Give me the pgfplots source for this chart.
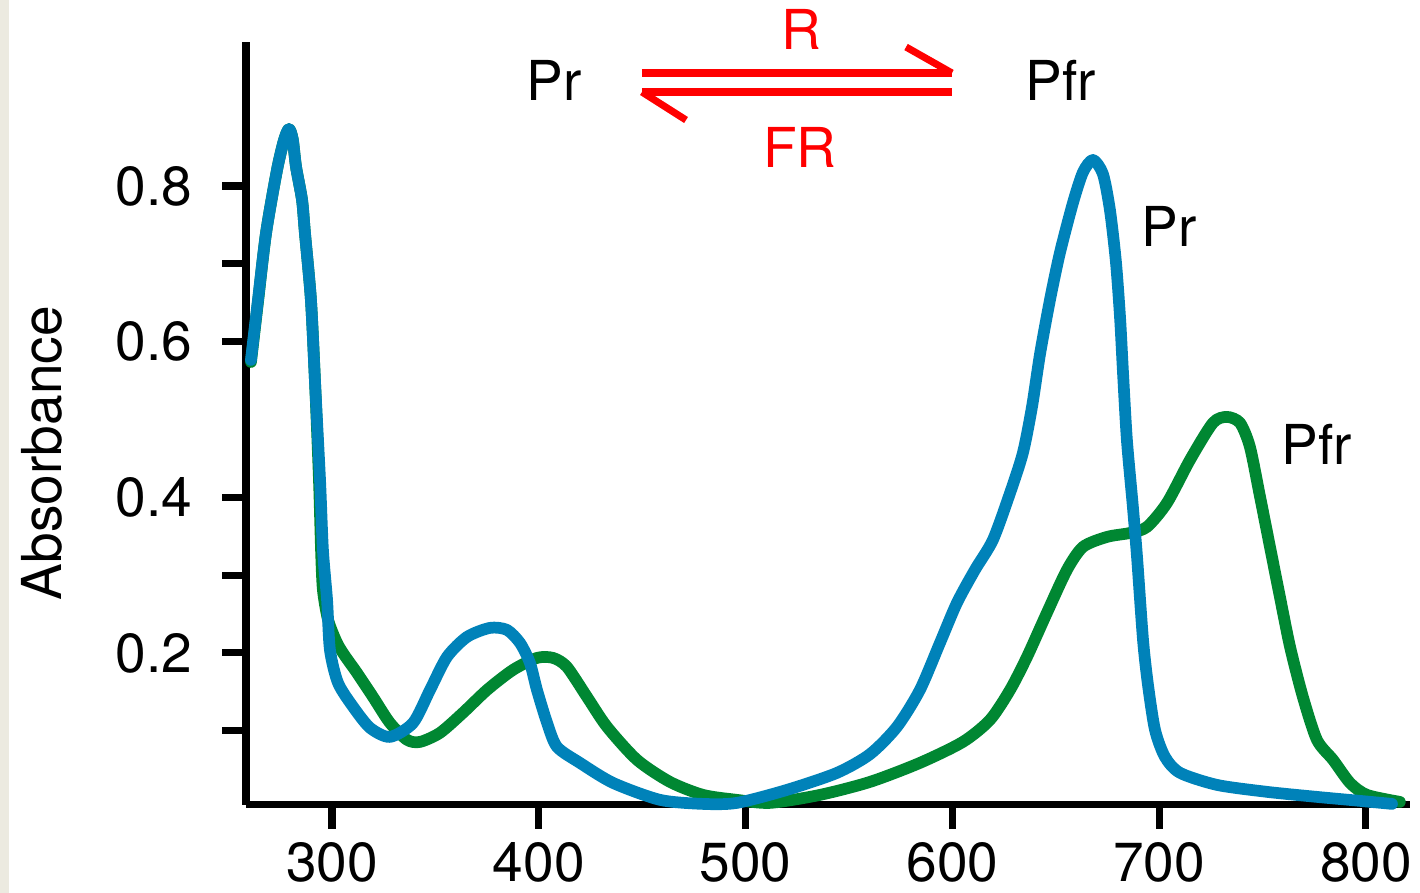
\documentclass[border=0pt]{standalone}
\usepackage{fontspec}
\setmainfont{TeX Gyre Heros}
\usepackage{pgfplots}
\pgfplotsset{compat=1.18}
\definecolor{prblue}{RGB}{0,130,185}
\definecolor{pfrgreen}{RGB}{0,135,50}
\definecolor{bgstrip}{RGB}{236,234,224}

\begin{document}
\fontsize{15.5}{18}\selectfont
\begin{tikzpicture}
\begin{axis}[
  scale only axis, width=327.9pt, height=214.9pt,
  xmin=258.4, xmax=821.3, ymin=0.0048, ymax=0.9851,
  axis x line=bottom, axis y line=left,
  axis line style={-, line width=2pt},
  tick align=outside, major tick length=6.76pt,
  tick style={line width=2pt, black},
  xtick={300,400,500,600,700,800},
  xticklabels={300,400,500,600,700,800},
  xticklabel style={yshift=1.6pt},
  ytick={0.1,0.2,0.3,0.4,0.6,0.7,0.8},
  yticklabels={,0.2,,0.4,0.6,,0.8},
  yticklabel style={xshift=-3pt},
  clip=false,
  every axis plot/.append style={line width=3.3pt, line join=round, line cap=round},
]
% Pfr (green)
\addplot[pfrgreen, smooth, tension=0.45] coordinates {
  (260.8,0.5739) (264.2,0.6511) (268.1,0.7397) (273.4,0.8206) (276.8,0.8591)
  (279.2,0.8733) (281.0,0.8600) (282.6,0.8245) (285.5,0.7821) (286.9,0.7397) (289.8,0.6536)
  (291.8,0.5469) (293.7,0.4223) (294.7,0.3324) (295.6,0.2810) (298.1,0.2424)
  (302.4,0.2130) (306.3,0.1960) (312.1,0.1743) (319.8,0.1435) (328.0,0.1101)
  (336.3,0.0883) (342.6,0.0857) (352.2,0.0973) (363.3,0.1230) (375.0,0.1525)
  (387.5,0.1782) (399.1,0.1936) (406.9,0.1936) (413.6,0.1821) (423.3,0.1435)
  (433.0,0.1050) (447.5,0.0626) (463.4,0.0343) (479.4,0.0176) (495.8,0.0112)
  (511.8,0.0073) (536.0,0.0176) (560.2,0.0343) (584.3,0.0587) (605.1,0.0857)
  (618.2,0.1140) (627.9,0.1525) (636.1,0.1949) (645.7,0.2514) (655.4,0.3067)
  (663.2,0.3363) (674.8,0.3491) (685.9,0.3542) (694.1,0.3619) (703.8,0.3928)
  (714.9,0.4480) (726.0,0.4956) (732.8,0.5033) (739.1,0.4956) (743.9,0.4647)
  (748.8,0.4005) (753.6,0.3362) (758.4,0.2720) (763.3,0.2078) (769.5,0.1435)
  (776.3,0.0883) (784.1,0.0626) (792.3,0.0330) (800.5,0.0176) (816.4,0.0086)
};
% Pr (blue)
\addplot[prblue, smooth, tension=0.45] coordinates {
  (260.8,0.5765) (264.2,0.6536) (268.1,0.7397) (273.4,0.8206) (276.8,0.8591)
  (279.2,0.8733) (281.0,0.8600) (282.6,0.8245) (285.5,0.7821) (286.9,0.7397) (289.8,0.6536)
  (291.8,0.5469) (294.2,0.4223) (295.6,0.3324) (297.6,0.2681) (299.0,0.2039)
  (302.9,0.1615) (310.2,0.1307) (318.4,0.1037) (328.0,0.0921) (339.2,0.1101)
  (347.4,0.1525) (355.6,0.1949) (365.3,0.2206) (376.4,0.2322) (384.6,0.2296)
  (390.9,0.2129) (395.7,0.1872) (399.1,0.1525) (404.0,0.1101) (408.8,0.0793)
  (419.9,0.0587) (435.9,0.0330) (458.6,0.0112) (479.4,0.0060) (495.8,0.0073)
  (520.0,0.0240) (544.2,0.0459) (560.2,0.0700) (573.2,0.1050) (584.3,0.1525)
  (594.0,0.2129) (602.2,0.2643) (610.9,0.3067) (619.6,0.3452) (627.9,0.4056)
  (634.1,0.4570) (638.5,0.5161) (642.4,0.5842) (647.2,0.6536) (652.0,0.7140)
  (658.3,0.7782) (663.2,0.8180) (668.0,0.8335) (672.8,0.8155) (676.2,0.7692)
  (679.1,0.7024) (681.1,0.6305) (682.5,0.5611) (684.4,0.4737) (687.3,0.3876)
  (689.3,0.3234) (692.2,0.2167) (694.6,0.1589) (698.0,0.1011) (702.8,0.0664)
  (710.1,0.0459) (728.0,0.0304) (752.1,0.0215) (776.3,0.0150) (797.1,0.0099)
  (812.6,0.0060)
};
% labels
\node[anchor=base] at (axis cs:704.7,0.7217) {Pr};
\node[anchor=base] at (axis cs:776.3,0.4416) {Pfr};
\node[anchor=base] at (axis cs:407.4,0.9105) {Pr};
\node[anchor=base] at (axis cs:652.5,0.9105) {Pfr};
\node[anchor=base, text=red] at (axis cs:526.8,0.9748) {R};
\node[anchor=base, text=red] at (axis cs:526.3,0.8232) {FR};
% equilibrium arrows
\draw[red, line width=2pt] (axis cs:449.9,0.9452) -- (axis cs:599.8,0.9452);
\draw[red, line width=2pt] (axis cs:599.8,0.9452) -- (axis cs:577.6,0.9786);
\draw[red, line width=2pt] (axis cs:449.9,0.9208) -- (axis cs:599.8,0.9208);
\draw[red, line width=2pt] (axis cs:449.9,0.9208) -- (axis cs:471.2,0.8848);
% y label
\node[rotate=90, anchor=base] at ([xshift=-52.1pt]rel axis cs:0,0.461) {Absorbance};
\end{axis}
\fill[bgstrip] ([shift={(-69.30pt,-24.79pt)}]current axis.south west) rectangle ([shift={(-66.8pt,11.83pt)}]current axis.north west);
\pgfresetboundingbox
\path ([shift={(-69.30pt,-24.79pt)}]current axis.south west) rectangle ([shift={(2.82pt,11.83pt)}]current axis.north east);
\end{tikzpicture}
\end{document}
